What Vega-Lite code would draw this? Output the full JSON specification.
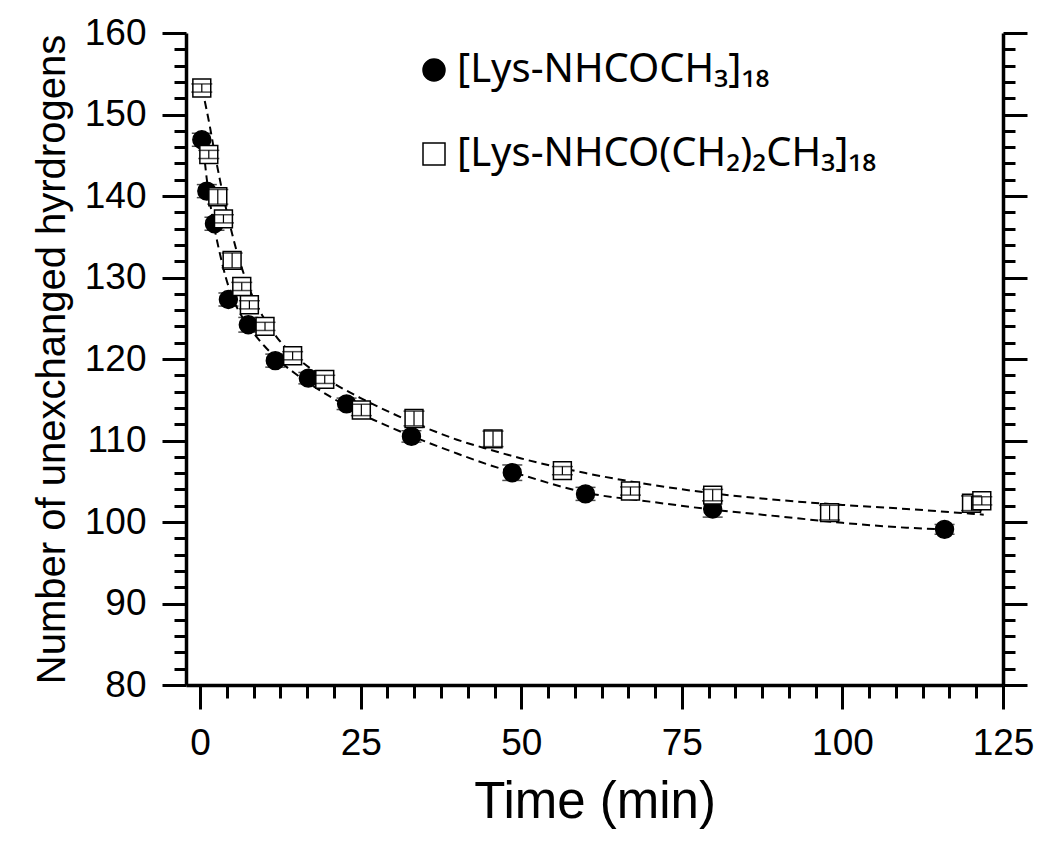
{
  "$schema": "https://vega.github.io/schema/vega-lite/v6.json",
  "width": 817,
  "height": 652,
  "autosize": {"type": "none"},
  "padding": {"left": 186, "top": 33, "right": 47, "bottom": 159},
  "background": "white",
  "datasets": {
    "points": [
      {"series": "[Lys-NHCOCH₃]₁₈", "t": 0.26, "y": 146.9, "err": 0.8},
      {"series": "[Lys-NHCOCH₃]₁₈", "t": 1.04, "y": 140.6, "err": 0.8},
      {"series": "[Lys-NHCOCH₃]₁₈", "t": 2.23, "y": 136.6, "err": 0.8},
      {"series": "[Lys-NHCOCH₃]₁₈", "t": 4.4, "y": 127.3, "err": 0.8},
      {"series": "[Lys-NHCOCH₃]₁₈", "t": 7.5, "y": 124.2, "err": 0.9},
      {"series": "[Lys-NHCOCH₃]₁₈", "t": 11.7, "y": 119.8, "err": 0.8},
      {"series": "[Lys-NHCOCH₃]₁₈", "t": 16.85, "y": 117.65, "err": 0.7},
      {"series": "[Lys-NHCOCH₃]₁₈", "t": 22.8, "y": 114.5, "err": 0.7},
      {"series": "[Lys-NHCOCH₃]₁₈", "t": 32.9, "y": 110.5, "err": 0.7},
      {"series": "[Lys-NHCOCH₃]₁₈", "t": 48.6, "y": 106.05, "err": 0.95},
      {"series": "[Lys-NHCOCH₃]₁₈", "t": 60.0, "y": 103.45, "err": 0.8},
      {"series": "[Lys-NHCOCH₃]₁₈", "t": 79.8, "y": 101.6, "err": 1.0},
      {"series": "[Lys-NHCOCH₃]₁₈", "t": 115.9, "y": 99.1, "err": 0.6},
      {"series": "[Lys-NHCO(CH₂)₂CH₃]₁₈", "t": 0.26, "y": 153.25, "err": 0.5},
      {"series": "[Lys-NHCO(CH₂)₂CH₃]₁₈", "t": 1.35, "y": 145.1, "err": 0.5},
      {"series": "[Lys-NHCO(CH₂)₂CH₃]₁₈", "t": 2.75, "y": 139.9, "err": 0.9},
      {"series": "[Lys-NHCO(CH₂)₂CH₃]₁₈", "t": 3.63, "y": 137.2, "err": 0.5},
      {"series": "[Lys-NHCO(CH₂)₂CH₃]₁₈", "t": 4.98, "y": 132.1, "err": 0.9},
      {"series": "[Lys-NHCO(CH₂)₂CH₃]₁₈", "t": 6.48, "y": 128.9, "err": 0.5},
      {"series": "[Lys-NHCO(CH₂)₂CH₃]₁₈", "t": 7.67, "y": 126.65, "err": 0.5},
      {"series": "[Lys-NHCO(CH₂)₂CH₃]₁₈", "t": 10.1, "y": 124.0, "err": 0.5},
      {"series": "[Lys-NHCO(CH₂)₂CH₃]₁₈", "t": 14.4, "y": 120.4, "err": 0.5},
      {"series": "[Lys-NHCO(CH₂)₂CH₃]₁₈", "t": 19.4, "y": 117.5, "err": 0.5},
      {"series": "[Lys-NHCO(CH₂)₂CH₃]₁₈", "t": 25.1, "y": 113.75, "err": 0.7},
      {"series": "[Lys-NHCO(CH₂)₂CH₃]₁₈", "t": 33.3, "y": 112.7, "err": 0.9},
      {"series": "[Lys-NHCO(CH₂)₂CH₃]₁₈", "t": 45.6, "y": 110.2, "err": 0.95},
      {"series": "[Lys-NHCO(CH₂)₂CH₃]₁₈", "t": 56.4, "y": 106.3, "err": 0.5},
      {"series": "[Lys-NHCO(CH₂)₂CH₃]₁₈", "t": 67.0, "y": 103.8, "err": 0.5},
      {"series": "[Lys-NHCO(CH₂)₂CH₃]₁₈", "t": 79.8, "y": 103.3, "err": 0.7},
      {"series": "[Lys-NHCO(CH₂)₂CH₃]₁₈", "t": 98.0, "y": 101.15, "err": 0.9},
      {"series": "[Lys-NHCO(CH₂)₂CH₃]₁₈", "t": 120.1, "y": 102.3, "err": 0.9},
      {"series": "[Lys-NHCO(CH₂)₂CH₃]₁₈", "t": 121.7, "y": 102.6, "err": 0.5}
    ],
    "fits": [
      {"series": "A", "t": 0.3, "y": 147.3},
      {"series": "A", "t": 0.6, "y": 145.2},
      {"series": "A", "t": 1.0, "y": 142.3},
      {"series": "A", "t": 1.5, "y": 139.4},
      {"series": "A", "t": 2.0, "y": 137.1},
      {"series": "A", "t": 2.5, "y": 135.0},
      {"series": "A", "t": 3.0, "y": 133.2},
      {"series": "A", "t": 3.5, "y": 131.5},
      {"series": "A", "t": 4.0, "y": 130.0},
      {"series": "A", "t": 5.0, "y": 127.6},
      {"series": "A", "t": 6.0, "y": 125.9},
      {"series": "A", "t": 7.0, "y": 124.6},
      {"series": "A", "t": 8.0, "y": 123.5},
      {"series": "A", "t": 10.0, "y": 121.6},
      {"series": "A", "t": 12.0, "y": 120.0},
      {"series": "A", "t": 15.0, "y": 118.1},
      {"series": "A", "t": 20.0, "y": 115.5},
      {"series": "A", "t": 25.0, "y": 113.3},
      {"series": "A", "t": 30.0, "y": 111.5},
      {"series": "A", "t": 35.0, "y": 109.9},
      {"series": "A", "t": 40.0, "y": 108.4},
      {"series": "A", "t": 45.0, "y": 107.0},
      {"series": "A", "t": 50.0, "y": 105.8},
      {"series": "A", "t": 60.0, "y": 103.6},
      {"series": "A", "t": 70.0, "y": 102.5},
      {"series": "A", "t": 80.0, "y": 101.5},
      {"series": "A", "t": 90.0, "y": 100.7},
      {"series": "A", "t": 100.0, "y": 99.9},
      {"series": "A", "t": 110.0, "y": 99.3},
      {"series": "A", "t": 116.0, "y": 99.1},
      {"series": "B", "t": 0.3, "y": 153.2},
      {"series": "B", "t": 1.0, "y": 150.6},
      {"series": "B", "t": 1.5, "y": 148.6},
      {"series": "B", "t": 2.0, "y": 146.4},
      {"series": "B", "t": 2.5, "y": 144.3},
      {"series": "B", "t": 3.0, "y": 142.3},
      {"series": "B", "t": 4.0, "y": 138.6},
      {"series": "B", "t": 5.0, "y": 135.3},
      {"series": "B", "t": 6.0, "y": 132.4},
      {"series": "B", "t": 7.0, "y": 130.0},
      {"series": "B", "t": 8.0, "y": 128.0},
      {"series": "B", "t": 10.0, "y": 124.9},
      {"series": "B", "t": 12.0, "y": 122.6},
      {"series": "B", "t": 15.0, "y": 120.2},
      {"series": "B", "t": 20.0, "y": 117.4},
      {"series": "B", "t": 25.0, "y": 115.2},
      {"series": "B", "t": 30.0, "y": 113.3},
      {"series": "B", "t": 35.0, "y": 111.6},
      {"series": "B", "t": 40.0, "y": 110.1},
      {"series": "B", "t": 45.0, "y": 108.9},
      {"series": "B", "t": 50.0, "y": 107.8},
      {"series": "B", "t": 60.0, "y": 106.0},
      {"series": "B", "t": 70.0, "y": 104.6},
      {"series": "B", "t": 80.0, "y": 103.5},
      {"series": "B", "t": 90.0, "y": 102.7},
      {"series": "B", "t": 100.0, "y": 102.1},
      {"series": "B", "t": 110.0, "y": 101.6},
      {"series": "B", "t": 122.0, "y": 100.9}
    ]
  },
  "encoding": {
    "x": {
      "field": "t",
      "type": "quantitative",
      "scale": {"domain": [-2.2, 125], "nice": false, "zero": false},
      "axis": {
        "title": "Time (min)",
        "titleFontSize": 51,
        "titlePadding": 16,
        "values": [0, 4.1667, 8.3333, 12.5, 16.6667, 20.8333, 25, 29.1667, 33.3333, 37.5, 41.6667, 45.8333, 50, 54.1667, 58.3333, 62.5, 66.6667, 70.8333, 75, 79.1667, 83.3333, 87.5, 91.6667, 95.8333, 100, 104.1667, 108.3333, 112.5, 116.6667, 120.8333, 125],
        "labelExpr": "datum.value % 25 === 0 ? datum.label : ''",
        "tickSize": {"condition": {"test": "datum.value % 25 === 0", "value": 24}, "value": 13},
        "labelPadding": 16,
        "labelFlush": false,
        "labelOverlap": false
      }
    }
  },
  "layer": [
    {
      "data": {"name": "fits"},
      "mark": {"type": "line", "color": "black", "strokeWidth": 2, "strokeDash": [8, 5], "interpolate": "monotone"},
      "encoding": {
        "y": {
          "field": "y",
          "type": "quantitative",
          "scale": {"domain": [80, 160], "nice": false, "zero": false},
          "axis": {
            "orient": "right",
            "title": null,
            "labels": false,
            "values": [80, 82, 84, 86, 88, 90, 92, 94, 96, 98, 100, 102, 104, 106, 108, 110, 112, 114, 116, 118, 120, 122, 124, 126, 128, 130, 132, 134, 136, 138, 140, 142, 144, 146, 148, 150, 152, 154, 156, 158, 160],
            "tickSize": {"condition": {"test": "datum.value % 10 === 0", "value": 24}, "value": 12}
          }
        },
        "detail": {"field": "series"}
      }
    },
    {
      "data": {"name": "points"},
      "transform": [{"filter": "datum.series === '[Lys-NHCOCH₃]₁₈'"}],
      "mark": {"type": "errorbar", "color": "black", "thickness": 1.5, "ticks": {"size": 20, "thickness": 1.5, "color": "black"}},
      "encoding": {
        "y": {"field": "y", "type": "quantitative", "scale": {"domain": [80, 160], "nice": false, "zero": false}, "axis": null},
        "yError": {"field": "err"}
      }
    },
    {
      "data": {"name": "points"},
      "mark": {"type": "point", "filled": false, "strokeWidth": 1.5, "opacity": 1, "size": 320},
      "encoding": {
        "y": {
          "field": "y",
          "type": "quantitative",
          "scale": {"domain": [80, 160], "nice": false, "zero": false},
          "axis": {
            "orient": "left",
            "title": "Number of unexchanged hyrdrogens",
            "titleFontSize": 40,
            "titlePadding": 12,
            "values": [80, 82, 84, 86, 88, 90, 92, 94, 96, 98, 100, 102, 104, 106, 108, 110, 112, 114, 116, 118, 120, 122, 124, 126, 128, 130, 132, 134, 136, 138, 140, 142, 144, 146, 148, 150, 152, 154, 156, 158, 160],
            "labelExpr": "datum.value % 10 === 0 ? datum.label : ''",
            "tickSize": {"condition": {"test": "datum.value % 10 === 0", "value": 24}, "value": 12},
            "labelPadding": 16,
            "labelFlush": false,
            "labelOverlap": false
          }
        },
        "shape": {
          "field": "series",
          "type": "nominal",
          "scale": {"domain": ["[Lys-NHCOCH₃]₁₈", "[Lys-NHCO(CH₂)₂CH₃]₁₈"], "range": ["circle", "square"]},
          "legend": {
            "orient": "none",
            "legendX": 228,
            "legendY": 17,
            "title": null,
            "labelFont": "Noto Sans",
            "labelFontSize": 40,
            "labelColor": "black",
            "symbolSize": 484,
            "labelOffset": 3,
            "rowPadding": 44,
            "padding": 0,
            "labelLimit": 800,
            "symbolStrokeWidth": 1.5
          }
        },
        "fill": {
          "field": "series",
          "type": "nominal",
          "scale": {"domain": ["[Lys-NHCOCH₃]₁₈", "[Lys-NHCO(CH₂)₂CH₃]₁₈"], "range": ["black", "white"]},
          "legend": {
            "orient": "none",
            "legendX": 228,
            "legendY": 17,
            "title": null,
            "labelFont": "Noto Sans",
            "labelFontSize": 40,
            "labelColor": "black",
            "symbolSize": 484,
            "labelOffset": 3,
            "rowPadding": 44,
            "padding": 0,
            "labelLimit": 800,
            "symbolStrokeWidth": 1.5
          }
        },
        "stroke": {
          "field": "series",
          "type": "nominal",
          "scale": {"domain": ["[Lys-NHCOCH₃]₁₈", "[Lys-NHCO(CH₂)₂CH₃]₁₈"], "range": ["black", "black"]},
          "legend": {
            "orient": "none",
            "legendX": 228,
            "legendY": 17,
            "title": null,
            "labelFont": "Noto Sans",
            "labelFontSize": 40,
            "labelColor": "black",
            "symbolSize": 484,
            "labelOffset": 3,
            "rowPadding": 44,
            "padding": 0,
            "labelLimit": 800,
            "symbolStrokeWidth": 1.5
          }
        }
      }
    },
    {
      "data": {"name": "points"},
      "transform": [{"filter": "datum.series === '[Lys-NHCO(CH₂)₂CH₃]₁₈'"}],
      "mark": {"type": "errorbar", "color": "black", "thickness": 1.2, "ticks": {"size": 21, "thickness": 1.5, "color": "black"}},
      "encoding": {
        "y": {"field": "y", "type": "quantitative", "scale": {"domain": [80, 160], "nice": false, "zero": false}, "axis": null},
        "yError": {"field": "err"}
      }
    }
  ],
  "resolve": {"axis": {"y": "independent"}},
  "config": {
    "view": {"stroke": null},
    "axis": {
      "grid": false,
      "domainColor": "black",
      "domainWidth": 3.5,
      "tickColor": "black",
      "tickWidth": 3,
      "labelColor": "black",
      "titleColor": "black",
      "labelFont": "Liberation Sans",
      "titleFont": "Liberation Sans",
      "titleFontWeight": "normal",
      "labelFontSize": 37
    }
  }
}
